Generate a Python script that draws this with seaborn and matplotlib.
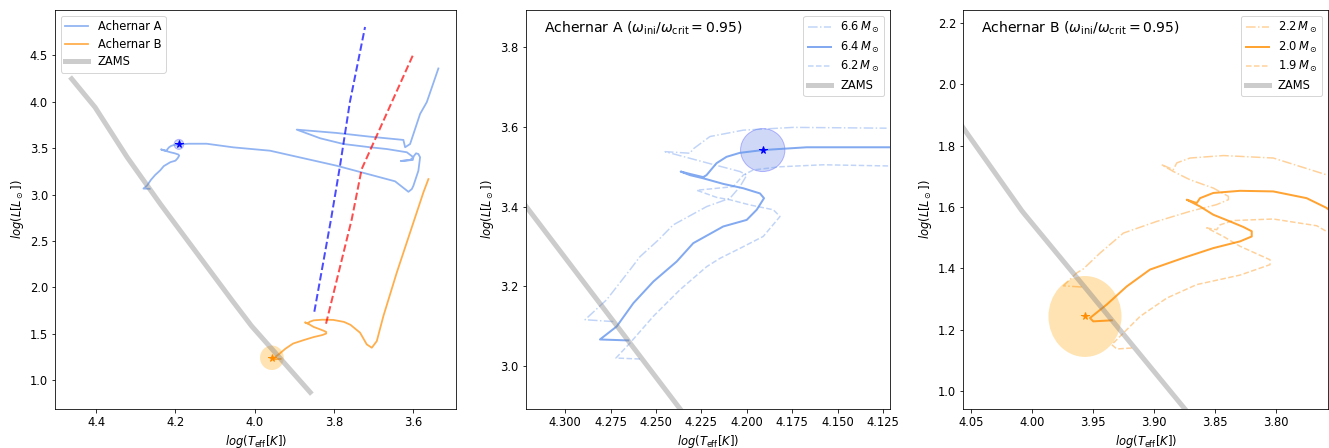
import numpy as np
import pandas as pd
import matplotlib
matplotlib.use("Agg")
import matplotlib.pyplot as plt
import seaborn as sns
from matplotlib.patches import Ellipse

# ZAMS line
zams_logT = [4.462, 4.403, 4.322, 4.237, 4.0566, 4.0085, 4.0065, 3.955, 3.860]
zams_logL = [4.248, 3.942, 3.404, 2.893, 1.858, 1.588, 1.578, 1.330, 0.871]

# Achernar A, 6.4 Msun (full track)
a64_logT = [4.2652, 4.2808, 4.2716, 4.2624, 4.2514, 4.2386, 4.2295, 4.213, 4.2001, 4.1946,
            4.1906, 4.1928, 4.202, 4.213, 4.224, 4.2313, 4.2364, 4.2313, 4.224, 4.2222,
            4.2167, 4.2112, 4.2039, 4.1913, 4.1671, 4.1213, 4.054, 3.9614, 3.793, 3.6457,
            3.612, 3.6035, 3.5995, 3.5869, 3.5826, 3.5869, 3.5927, 3.5995, 3.601, 3.6313,
            3.6078, 3.5995, 3.616, 3.6667, 3.7088, 3.776, 3.835, 3.894, 3.793, 3.709,
            3.6247, 3.6204, 3.6078, 3.5826, 3.5657, 3.5364]
a64_logL = [3.0636, 3.066, 3.0987, 3.1574, 3.2117, 3.2619, 3.308, 3.350, 3.3665, 3.392,
            3.421, 3.433, 3.446, 3.457, 3.471, 3.479, 3.488, 3.482, 3.474, 3.479,
            3.509, 3.525, 3.535, 3.542, 3.549, 3.549, 3.510, 3.474, 3.312, 3.144,
            3.031, 3.0605, 3.096, 3.258, 3.403, 3.438, 3.446, 3.409, 3.374, 3.363,
            3.374, 3.403, 3.457, 3.492, 3.511, 3.546, 3.608, 3.701, 3.665, 3.625,
            3.590, 3.511, 3.546, 3.870, 3.997, 4.360]

# Achernar A neighbours
a66_logT = [4.2734, 4.289, 4.2771, 4.2643, 4.2588, 4.2487, 4.2405, 4.2221, 4.2093, 4.2038,
            4.2001, 4.2038, 4.2221, 4.245, 4.2313, 4.2295, 4.2203, 4.202, 4.1745, 4.1232]
a66_logL = [3.111, 3.1156, 3.166, 3.241, 3.274, 3.316, 3.354, 3.400, 3.421, 3.450,
            3.479, 3.488, 3.510, 3.538, 3.534, 3.545, 3.576, 3.592, 3.599, 3.597]
a62_logT = [4.2588, 4.272, 4.2643, 4.2515, 4.2368, 4.2221, 4.2148, 4.2038, 4.191, 4.1864,
            4.1818, 4.1855, 4.1983, 4.2093, 4.2166, 4.2276, 4.2075, 4.202, 4.1965, 4.1818,
            4.158, 4.1213]
a62_logL = [3.0169, 3.0193, 3.057, 3.124, 3.191, 3.249, 3.270, 3.295, 3.325, 3.350,
            3.375, 3.392, 3.404, 3.417, 3.423, 3.441, 3.450, 3.479, 3.492, 3.500,
            3.505, 3.502]

# Achernar B, 2.0 Msun (full track)
b20_logT = [3.9346, 3.9498, 3.9525, 3.9387, 3.9223, 3.9032, 3.8758, 3.8512, 3.8292, 3.8196,
            3.8196, 3.8265, 3.8374, 3.8512, 3.8621, 3.873, 3.8648, 3.8621, 3.8512, 3.8292,
            3.8019, 3.7745, 3.758, 3.7341, 3.7172, 3.7045, 3.6919, 3.6752, 3.6414, 3.6078,
            3.5742, 3.5616]
b20_logL = [1.2304, 1.227, 1.238, 1.282, 1.341, 1.396, 1.434, 1.466, 1.488, 1.504,
            1.521, 1.535, 1.553, 1.575, 1.602, 1.624, 1.613, 1.629, 1.646, 1.653,
            1.651, 1.629, 1.597, 1.513, 1.387, 1.351, 1.422, 1.692, 2.161, 2.593,
            3.025, 3.168]

# Achernar B neighbours
b22_logT = [3.9593, 3.9744, 3.9634, 3.958, 3.9442, 3.9251, 3.8977, 3.8703, 3.8484, 3.8388,
            3.8388, 3.8512, 3.8703, 3.884, 3.8936, 3.884, 3.8812, 3.8703, 3.8429, 3.8019,
            3.758]
b22_logL = [1.339, 1.343, 1.385, 1.398, 1.450, 1.515, 1.553, 1.586, 1.608, 1.624,
            1.635, 1.662, 1.689, 1.716, 1.738, 1.722, 1.744, 1.760, 1.768, 1.760,
            1.705]
b19_logT = [3.9182, 3.9305, 3.9346, 3.9278, 3.9114, 3.8894, 3.8648, 3.8292, 3.8046, 3.8046,
            3.8292, 3.8429, 3.8566, 3.8484, 3.8456, 3.8347, 3.8019, 3.7662, 3.758]
b19_logL = [1.140, 1.137, 1.151, 1.178, 1.243, 1.303, 1.347, 1.378, 1.412, 1.428,
            1.472, 1.504, 1.532, 1.526, 1.542, 1.556, 1.561, 1.539, 1.520]

# instability strip edges
blue_edge_logT = [3.8495, 3.8073, 3.7846, 3.7598, 3.7215]
blue_edge_logL = [1.739, 2.737, 3.313, 3.997, 4.807]
red_edge_logT = [3.820, 3.755, 3.730, 3.692, 3.601]
red_edge_logL = [1.610, 2.736, 3.276, 3.636, 4.500]

# observed positions and errors
star_a = (4.1913, 3.542)
err_a = (0.0122, 0.054)
star_b = (3.9566, 1.243)
err_b = (0.030, 0.132)

col_a = "cornflowerblue"
col_b = "darkorange"

plt.rcParams["xtick.labelsize"] = 11.5
plt.rcParams["ytick.labelsize"] = 11.5
plt.rcParams["axes.labelsize"] = 11.5
plt.rcParams["legend.fontsize"] = 11.5
plt.rcParams["legend.labelspacing"] = 0.38


def line(ax, x, y, **kw):
    sns.lineplot(x=x, y=y, sort=False, estimator=None, ax=ax, **kw)


def zams(ax, lw=5):
    line(ax, zams_logT, zams_logL, color="gray", alpha=0.4, lw=lw, label="ZAMS")


def mark_a(ax):
    ax.add_patch(Ellipse(star_a, 2 * err_a[0], 2 * err_a[1], facecolor="royalblue",
                         edgecolor="blue", alpha=0.25, lw=1, zorder=1))
    ax.plot(*star_a, marker="*", color="blue", ms=7.5, ls="none", zorder=5)


def mark_b(ax):
    ax.add_patch(Ellipse(star_b, 2 * err_b[0], 2 * err_b[1], facecolor="orange",
                         edgecolor="none", alpha=0.3, zorder=1))
    ax.plot(*star_b, marker="*", color="darkorange", ms=7.5, ls="none", zorder=5)


fig = plt.figure(figsize=(1329 / 72, 448 / 72), dpi=72)
ax1 = fig.add_axes([0.0414, 0.0877, 0.3017, 0.890])
ax2 = fig.add_axes([0.3956, 0.0877, 0.2741, 0.890])
ax3 = fig.add_axes([0.7248, 0.0877, 0.2744, 0.890])

# panel 1 - overview
line(ax1, a64_logT, a64_logL, color=col_a, alpha=0.7, lw=1.8, label="Achernar A")
line(ax1, b20_logT, b20_logL, color=col_b, alpha=0.7, lw=1.8, label="Achernar B")
zams(ax1)
line(ax1, blue_edge_logT, blue_edge_logL, color="blue", alpha=0.7, lw=2, linestyle="--")
line(ax1, red_edge_logT, red_edge_logL, color="red", alpha=0.7, lw=2, linestyle="--")
mark_a(ax1)
mark_b(ax1)
ax1.set_xlim(4.504, 3.492)
ax1.set_ylim(0.694, 4.99)
ax1.legend(loc="upper left")

# panel 2 - Achernar A
line(ax2, a66_logT, a66_logL, color=col_a, alpha=0.4, lw=1.5, linestyle="-.", label=r"6.6$\,M_\odot$")
line(ax2, a64_logT, a64_logL, color=col_a, alpha=0.8, lw=2, label=r"6.4$\,M_\odot$")
line(ax2, a62_logT, a62_logL, color=col_a, alpha=0.4, lw=1.5, linestyle="--", label=r"6.2$\,M_\odot$")
zams(ax2)
mark_a(ax2)
ax2.set_xlim(4.3216, 4.1213)
ax2.set_ylim(2.892, 3.894)
ax2.text(0.05, 0.955, r"Achernar A ($\omega_{\rm ini}/\omega_{\rm crit} = 0.95$)",
         transform=ax2.transAxes, fontsize=14, va="center")
ax2.legend(loc="upper right")

# panel 3 - Achernar B
line(ax3, b22_logT, b22_logL, color=col_b, alpha=0.4, lw=1.5, linestyle="-.", label=r"2.2$\,M_\odot$")
line(ax3, b20_logT, b20_logL, color=col_b, alpha=0.8, lw=2, label=r"2.0$\,M_\odot$")
line(ax3, b19_logT, b19_logL, color=col_b, alpha=0.4, lw=1.5, linestyle="--", label=r"1.9$\,M_\odot$")
zams(ax3)
mark_b(ax3)
ax3.set_xlim(4.0566, 3.757)
ax3.set_ylim(0.942, 2.243)
ax3.text(0.05, 0.955, r"Achernar B ($\omega_{\rm ini}/\omega_{\rm crit} = 0.95$)",
         transform=ax3.transAxes, fontsize=14, va="center")
ax3.legend(loc="upper right")

for ax in (ax1, ax2, ax3):
    ax.set_xlabel(r"$log(T_{\rm eff}[K])$")
    ax.set_ylabel(r"$log(L[L_\odot])$")

fig.savefig("out.png", dpi=72)
